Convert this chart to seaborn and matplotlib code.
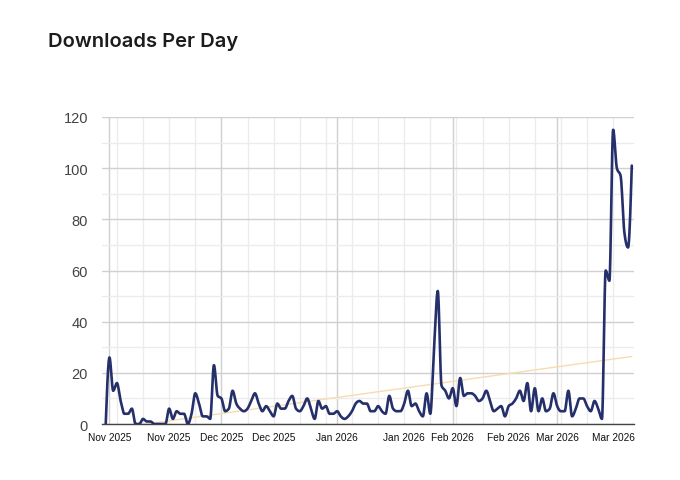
import os

os.makedirs(".matplotlib", exist_ok=True)
os.environ["MPLCONFIGDIR"] = os.path.abspath(".matplotlib")

import numpy as np
import pandas as pd
import seaborn as sns
import matplotlib.pyplot as plt
import matplotlib.dates as mdates
from matplotlib.ticker import MultipleLocator, FuncFormatter

plt.switch_backend("Agg")

# Daily downloads, 2025-10-31 .. 2026-03-21
start_date = "2025-10-31"
downloads = [
    0,
    # Nov
    26, 13, 16, 9, 4, 4, 6, 0, 0, 2, 1, 1, 0, 0, 0, 0, 6, 2, 5, 4,
    4, 0, 4, 12, 8, 3, 3, 2, 23, 11,
    # Dec
    10, 5, 6, 13, 8, 6, 5, 6, 9, 12, 8, 5, 7, 5, 3, 8, 6, 6, 9, 11,
    6, 5, 7, 10, 6, 2, 9, 6, 7, 4, 4,
    # Jan
    5, 3, 2, 3, 5, 8, 9, 8, 8, 5, 5, 7, 5, 4, 11, 6, 5, 5, 8, 13,
    7, 8, 5, 3, 12, 4, 30, 52, 15, 13, 10,
    # Feb
    14, 7, 18, 11, 12, 12, 11, 9, 10, 13, 9, 5, 6, 7, 3, 7, 8, 10, 13, 9,
    16, 5, 14, 5, 10, 5, 6, 12,
    # Mar
    7, 5, 5, 13, 3, 6, 10, 10, 7, 5, 9, 6, 2, 60, 56, 115, 100, 97, 75, 69,
    101,
]
# trend line value on the first and last day
trend_values = [-2.2, 26.4]
label_dates = ["2025-11-01", "2025-11-17", "2025-12-01", "2025-12-15", "2026-01-01",
               "2026-01-19", "2026-02-01", "2026-02-16", "2026-03-01", "2026-03-16"]
y_ticks = [0, 20, 40, 60, 80, 100, 120]

LINE_COLOR = "#25306b"
TREND_COLOR = "#f6dcb0"


def monotone_curve(x, y, n=16):
    """Monotone cubic (Fritsch-Carlson style) smoothing for display."""
    x = np.asarray(x, float)
    y = np.asarray(y, float)
    h = np.diff(x)
    d = np.diff(y) / h
    m = np.zeros_like(y)
    for k in range(1, len(y) - 1):
        p = (d[k - 1] * h[k] + d[k] * h[k - 1]) / (h[k - 1] + h[k])
        m[k] = (np.sign(d[k - 1]) + np.sign(d[k])) * min(abs(d[k - 1]), abs(d[k]), 0.5 * abs(p))
    m[0] = (3 * d[0] - m[1]) / 2
    m[-1] = (3 * d[-1] - m[-2]) / 2
    xs, ys = [], []
    for k in range(len(h)):
        t = np.linspace(0, 1, n, endpoint=False)
        h00 = 2 * t**3 - 3 * t**2 + 1
        h10 = t**3 - 2 * t**2 + t
        h01 = -2 * t**3 + 3 * t**2
        h11 = t**3 - t**2
        xs.append(x[k] + t * h[k])
        ys.append(h00 * y[k] + h10 * h[k] * m[k] + h01 * y[k + 1] + h11 * h[k] * m[k + 1])
    xs.append([x[-1]])
    ys.append([y[-1]])
    return np.concatenate(xs), np.concatenate(ys)


def main():
    sns.set_theme(style="white")
    plt.rcParams["font.family"] = ["Liberation Sans", "DejaVu Sans"]

    dates = pd.date_range(start_date, periods=len(downloads), freq="D")
    df = pd.DataFrame({"Date": dates, "Downloads": downloads})
    t = (df["Date"] - df["Date"].iloc[0]).dt.days.to_numpy()

    xs, ys = monotone_curve(t, df["Downloads"])
    smooth = pd.DataFrame({
        "Date": df["Date"].iloc[0] + pd.to_timedelta(xs, unit="D"),
        "Downloads": ys,
    })

    trend = pd.DataFrame({
        "Date": df["Date"].iloc[[0, -1]].to_numpy(),
        "Downloads": trend_values,
    })

    fig = plt.figure(figsize=(6.8, 4.81), dpi=100)
    ax = fig.add_axes([0.15, 0.1164, 0.7824, 0.6383])

    sns.lineplot(data=trend, x="Date", y="Downloads", ax=ax, color=TREND_COLOR,
                 linewidth=1.0, zorder=2)
    sns.lineplot(data=smooth, x="Date", y="Downloads", ax=ax, color=LINE_COLOR,
                 linewidth=1.9, estimator=None, sort=False, zorder=3)

    ax.set_xlim(df["Date"].iloc[0] - pd.Timedelta(days=1.0),
                df["Date"].iloc[-1] + pd.Timedelta(days=0.6))
    ax.set_ylim(0, 120)
    ax.set_xlabel("")
    ax.set_ylabel("")

    # y grid: labelled lines every 20, lighter ones in between
    ax.set_yticks(y_ticks)
    ax.yaxis.set_minor_locator(MultipleLocator(10))
    ax.grid(True, which="major", axis="y", color="#d0d0d0", linewidth=1.0)
    ax.grid(True, which="minor", axis="y", color="#ececec", linewidth=1.0)

    # x grid: month starts darker, weekly (Mondays) lighter
    ax.xaxis.set_major_locator(mdates.MonthLocator())
    ax.xaxis.set_minor_locator(mdates.WeekdayLocator(byweekday=mdates.MO))
    label_set = {pd.Timestamp(d).date() for d in label_dates}

    def fmt(val, pos=None):
        d = mdates.num2date(val).date()
        return d.strftime("%b %Y") if d in label_set else ""

    ax.xaxis.set_major_formatter(FuncFormatter(fmt))
    ax.xaxis.set_minor_formatter(FuncFormatter(fmt))
    ax.grid(True, which="major", axis="x", color="#d0d0d0", linewidth=1.0)
    ax.grid(True, which="minor", axis="x", color="#ececec", linewidth=1.0)
    ax.set_axisbelow(True)

    ax.tick_params(axis="y", which="both", length=0, pad=10, labelsize=10.5, labelcolor="#444444")
    ax.tick_params(axis="x", which="both", length=0, pad=6, labelsize=7.3, labelcolor="#111111")

    for side in ["top", "right", "left"]:
        ax.spines[side].set_visible(False)
    ax.spines["bottom"].set_color("#444444")
    ax.spines["bottom"].set_linewidth(1.0)

    fig.text(48 / 680, 1 - 47 / 481, "Downloads Per Day", fontsize=14.5, fontweight="semibold",
             color="#1c1c1c", family=["Inter", "DejaVu Sans"], ha="left", va="baseline")

    fig.savefig("out.png", dpi=100)
    plt.close(fig)


if __name__ == "__main__":
    main()
